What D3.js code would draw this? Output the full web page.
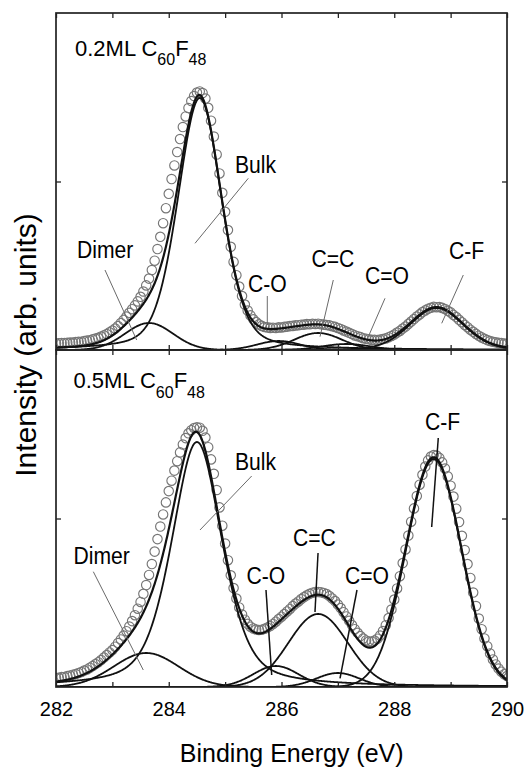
<!DOCTYPE html>
<html>
<head>
<meta charset="utf-8">
<script src="https://cdn.jsdelivr.net/npm/d3@7"></script>
<style>
  html, body { margin: 0; padding: 0; background: #fff; }
  svg { display: block; font-family: "Liberation Sans", Arial, Helvetica, sans-serif; }
</style>
</head>
<body>
<svg id="chart" width="527" height="770"></svg>
<script>
// Binding-energy grid of the measured C 1s spectra (eV)
const energyStart = 282.0;
const energyStep = 0.05;

// Measured C 1s intensities, 0.2 ML C60F48 (arb. units)
const counts02 = [
  6.5, 6.8, 7.0, 6.9, 7.2, 7.5, 7.4, 7.9, 8.2, 8.3,
  8.9, 9.4, 9.8, 10.6, 11.5, 12.2, 13.4, 14.6, 16.0, 17.7,
  19.5, 21.5, 24.0, 27.0, 30.1, 33.4, 37.2, 40.8, 44.6, 48.6,
  53.2, 58.5, 64.6, 71.4, 80.0, 89.3, 101.0, 113.2, 126.8, 141.8,
  156.2, 171.0, 184.6, 198.0, 211.0, 223.0, 233.6, 242.0, 249.0, 254.0,
  257.4, 258.6, 257.0, 251.5, 242.2, 229.3, 213.5, 195.5, 176.6, 157.2,
  138.2, 119.9, 103.2, 88.1, 74.8, 63.4, 53.9, 45.4, 39.5, 34.6,
  30.7, 27.9, 25.6, 24.1, 23.0, 22.6, 22.1, 22.3, 22.0, 22.6,
  22.5, 23.1, 23.4, 23.9, 24.1, 24.6, 24.8, 25.3, 25.4, 25.9,
  25.8, 26.2, 26.0, 26.3, 25.7, 25.4, 25.0, 24.6, 23.8, 23.1,
  22.0, 21.0, 19.6, 18.5, 17.2, 16.0, 14.6, 13.8, 12.9, 11.8,
  11.3, 10.7, 10.1, 10.2, 10.0, 10.4, 10.9, 11.6, 12.8, 14.0,
  15.5, 17.4, 19.1, 21.4, 23.5, 26.1, 28.4, 31.0, 33.5, 35.6,
  37.9, 39.6, 41.3, 42.2, 43.1, 42.8, 43.0, 42.1, 41.0, 39.2,
  37.6, 35.1, 32.9, 30.2, 27.8, 25.1, 22.8, 20.3, 18.2, 16.1,
  14.3, 12.6, 11.2, 9.9, 9.0, 8.2, 7.7, 7.1, 6.9, 6.4,
  6.3
];

// Measured C 1s intensities, 0.5 ML C60F48 (arb. units)
const counts05 = [
  9.0, 9.2, 9.9, 10.1, 10.9, 11.4, 12.3, 13.0, 14.1, 15.0,
  16.4, 17.6, 19.3, 21.0, 22.9, 24.8, 27.0, 29.5, 31.9, 34.6,
  37.0, 40.3, 44.0, 47.6, 51.4, 55.8, 60.5, 65.9, 71.8, 78.3,
  85.1, 93.2, 102.0, 112.1, 123.0, 135.4, 147.9, 160.5, 172.6, 184.6,
  195.9, 206.3, 216.4, 225.8, 234.6, 242.5, 248.9, 253.7, 256.8, 258.9,
  259.6, 259.3, 256.2, 249.4, 239.8, 227.6, 213.2, 197.0, 179.6, 161.3,
  143.5, 126.8, 111.7, 98.9, 88.4, 79.6, 72.5, 67.3, 63.2, 60.3,
  58.6, 57.5, 57.1, 57.3, 58.2, 59.4, 61.0, 63.1, 65.3, 67.9,
  70.3, 72.9, 75.6, 78.1, 80.9, 83.4, 85.6, 88.0, 89.9, 91.7,
  93.2, 94.3, 95.1, 95.0, 94.8, 94.1, 92.9, 91.0, 88.6, 85.9,
  82.5, 78.9, 74.8, 70.6, 66.2, 61.9, 57.8, 54.2, 51.0, 48.5,
  46.6, 45.6, 45.5, 46.4, 48.3, 51.5, 56.0, 61.8, 68.9, 77.5,
  87.4, 98.6, 110.8, 123.9, 137.6, 151.5, 165.3, 178.6, 191.0, 202.3,
  212.2, 220.4, 226.6, 230.4, 232.0, 231.5, 229.1, 224.6, 218.5, 210.6,
  201.3, 190.4, 178.3, 165.0, 151.2, 137.0, 122.9, 109.1, 94.5, 81.0,
  68.5, 57.8, 48.6, 40.8, 33.6, 27.6, 22.6, 18.5, 15.3, 12.8,
  10.9
];

// Fitted components: centre (eV), height, FWHM (eV), Lorentzian fraction
const peakNames = ["Dimer", "Bulk", "C-O", "C=C", "C=O", "C-F"];
const center02  = [283.65, 284.55, 285.95, 286.65, 287.15, 288.75];
const height02  = [27, 252, 9, 17, 6, 42];
const fwhm02    = [1.00, 0.92, 0.90, 1.00, 1.00, 1.12];
const lorentz02 = [0, 0.30, 0, 0, 0, 0.15];
const center05  = [283.60, 284.50, 285.90, 286.65, 287.00, 288.70];
const height05  = [34, 245, 21, 73, 14, 228];
const fwhm05    = [1.35, 1.06, 0.95, 1.24, 0.90, 1.15];
const lorentz05 = [0, 0.45, 0, 0, 0, 0];

// Axis ticks
const xTicks = [282, 283, 284, 285, 286, 287, 288, 289, 290];
const xTickLabels = ["282", "", "284", "", "286", "", "288", "", "290"];
const intensityMax = 337;
const coverageLabels = ["0.2ML", "0.5ML"];

// Peak labels with leader lines, in data units (label anchor, leader start, leader end)
const notes02 = [
  { name: "Bulk",  at: [285.175, 177],  from: [285.411, 171.7], to: [284.466, 106.7], dark: false },
  { name: "Dimer", at: [282.372, 92],   from: [282.869, 80],    to: [283.431, 10],    dark: false },
  { name: "C-O",   at: [285.406, 58],   from: [285.748, 54],    to: [285.748, 25],    dark: false },
  { name: "C=C",   at: [286.532, 83],   from: [286.919, 70],    to: [286.683, 13.3],  dark: false },
  { name: "C=O",   at: [287.481, 66.5], from: [287.836, 51.7],  to: [287.540, 13.3],  dark: false },
  { name: "C-F",   at: [288.971, 91.5], from: [289.225, 75],    to: [288.842, 26.7],  dark: false }
];
const notes05 = [
  { name: "Bulk",  at: [285.175, 217],   from: [285.471, 211], to: [284.554, 157], dark: false },
  { name: "Dimer", at: [282.310, 123.5], from: [282.662, 115.3], to: [283.548, 17], dark: false },
  { name: "C-O",   at: [285.379, 103.5], from: [285.725, 97],  to: [285.826, 12],  dark: true },
  { name: "C=C",   at: [286.204, 141],   from: [286.648, 134], to: [286.594, 75],  dark: true },
  { name: "C=O",   at: [287.126, 103.5], from: [287.339, 97],  to: [287.038, 8.7], dark: true },
  { name: "C-F",   at: [288.545, 257],   from: [288.781, 249], to: [288.664, 160], dark: true }
];

// ---- layout ----
const plotLeft = 56, plotRight = 507;
const panels = [
  { top: 13,  bottom: 350, counts: counts02, c: center02, h: height02, w: fwhm02, eta: lorentz02, notes: notes02, label: coverageLabels[0] },
  { top: 350, bottom: 687, counts: counts05, c: center05, h: height05, w: fwhm05, eta: lorentz05, notes: notes05, label: coverageLabels[1] }
];

const svg = d3.select("#chart");
const x = d3.scaleLinear().domain([282, 290]).range([plotLeft, plotRight]);

// Pseudo-Voigt line shape
function pseudoVoigt(e, c, h, w, eta) {
  const t = (e - c) / w;
  return h * ((1 - eta) * Math.exp(-4 * Math.LN2 * t * t) + eta / (1 + 4 * t * t));
}

const fineGrid = d3.range(282, 290.0001, 0.01);
const ink = "#111";

panels.forEach((p, pi) => {
  const y = d3.scaleLinear().domain([0, intensityMax]).range([p.bottom, p.top]);
  const clipId = "clip" + pi;
  svg.append("clipPath").attr("id", clipId)
    .append("rect").attr("x", plotLeft).attr("y", p.top)
    .attr("width", plotRight - plotLeft).attr("height", p.bottom - p.top);

  const g = svg.append("g").attr("clip-path", `url(#${clipId})`);

  // measured points
  const pts = p.counts.map((v, i) => ({ e: energyStart + i * energyStep, v }));
  g.selectAll("circle.pt").data(pts).enter().append("circle")
    .attr("class", "pt")
    .attr("cx", d => x(d.e)).attr("cy", d => y(d.v)).attr("r", 4.7)
    .attr("fill", "none").attr("stroke", "#767676").attr("stroke-width", 1.15);

  const line = d3.line().x(d => x(d[0])).y(d => y(d[1])).curve(d3.curveLinear);

  // fitted components
  peakNames.forEach((name, k) => {
    const curve = fineGrid.map(e => [e, pseudoVoigt(e, p.c[k], p.h[k], p.w[k], p.eta[k])]);
    g.append("path").attr("d", line(curve))
      .attr("fill", "none").attr("stroke", ink).attr("stroke-width", 1.8);
  });

  // fit envelope
  const envelope = fineGrid.map(e => [e, d3.sum(peakNames, (n, k) => pseudoVoigt(e, p.c[k], p.h[k], p.w[k], p.eta[k]))]);
  g.append("path").attr("d", line(envelope))
    .attr("fill", "none").attr("stroke", ink).attr("stroke-width", 2.2);

  // leader lines and labels
  p.notes.forEach(n => {
    svg.append("line")
      .attr("x1", x(n.from[0])).attr("y1", y(n.from[1]))
      .attr("x2", x(n.to[0])).attr("y2", y(n.to[1]))
      .attr("stroke", n.dark ? "#111" : "#6a6a6a")
      .attr("stroke-width", n.dark ? 1.5 : 1);
    svg.append("text")
      .attr("transform", `translate(${x(n.at[0])},${y(n.at[1])}) scale(0.88,1)`)
      .attr("font-size", 24).attr("fill", "#000")
      .text(n.name);
  });

  // sample label with subscripts
  const t = svg.append("text")
    .attr("x", pi === 0 ? 75 : 73.5)
    .attr("y", p.top + (pi === 0 ? 42.7 : 38.3))
    .attr("font-size", 22).attr("fill", "#000");
  t.append("tspan").text(p.label + " C");
  t.append("tspan").attr("font-size", 16).attr("dy", 9.5).text("60");
  t.append("tspan").attr("dy", -9.5).text("F");
  t.append("tspan").attr("font-size", 16).attr("dy", 9.5).text("48");

  // ticks on all four sides, pointing inward
  const axTop = svg.append("g").attr("transform", `translate(0,${p.top})`)
    .call(d3.axisTop(x).tickValues(xTicks).tickSize(-5).tickFormat(""));
  const isLast = pi === panels.length - 1;
  const axBottom = svg.append("g").attr("transform", `translate(0,${p.bottom})`)
    .call(d3.axisBottom(x).tickValues(xTicks).tickSize(-5).tickPadding(15)
      .tickFormat((d, i) => isLast ? xTickLabels[i] : ""));
  const axLeft = svg.append("g").attr("transform", `translate(${plotLeft},0)`)
    .call(d3.axisLeft(y).tickValues([intensityMax / 2]).tickSize(-5).tickFormat(""));
  const axRight = svg.append("g").attr("transform", `translate(${plotRight},0)`)
    .call(d3.axisRight(y).tickValues([intensityMax / 2]).tickSize(-5).tickFormat(""));
  [axTop, axBottom, axLeft, axRight].forEach(a => {
    a.select(".domain").remove();
    a.selectAll("line").attr("stroke", "#222").attr("stroke-width", 1.3);
    a.selectAll("text").attr("font-size", 20).attr("fill", "#000")
      .attr("font-family", "'Liberation Sans', Arial, sans-serif");
  });

  // panel frame
  svg.append("rect").attr("x", plotLeft).attr("y", p.top)
    .attr("width", plotRight - plotLeft).attr("height", p.bottom - p.top)
    .attr("fill", "none").attr("stroke", "#222").attr("stroke-width", 1.7);
});

// axis titles
svg.append("text")
  .attr("x", 291.7).attr("y", 761.7).attr("text-anchor", "middle")
  .attr("font-size", 25).attr("fill", "#000")
  .text("Binding Energy (eV)");
svg.append("text")
  .attr("transform", "translate(36,345) rotate(-90)")
  .attr("text-anchor", "middle").attr("font-size", 30).attr("fill", "#000")
  .text("Intensity (arb. units)");
</script>
</body>
</html>
